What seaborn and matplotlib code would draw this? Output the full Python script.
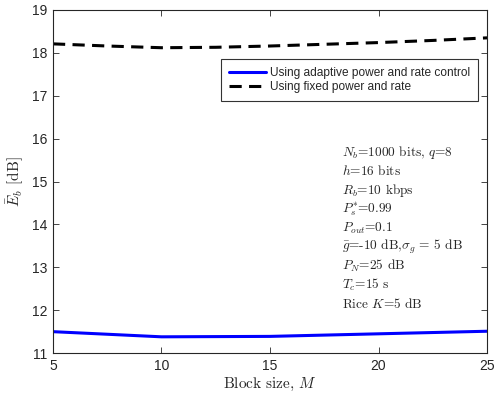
import matplotlib
matplotlib.use("Agg")
import matplotlib.pyplot as plt
import seaborn as sns
import pandas as pd

# Data
m_adaptive = [5, 10, 15, 20, 25]
eb_adaptive = [11.50, 11.38, 11.39, 11.45, 11.51]
m_fixed = [5, 7.5, 10, 12.5, 15, 17.5, 20, 22.5, 25]
eb_fixed = [18.21, 18.16, 18.12, 18.13, 18.16, 18.20, 18.24, 18.29, 18.35]
x_ticks = [5, 10, 15, 20, 25]
y_ticks = [11, 12, 13, 14, 15, 16, 17, 18, 19]
label_adaptive = "Using adaptive power and rate control"
label_fixed = "Using fixed power and rate"
param_lines = [
    r"$N_b$=1000 bits, $q$=8",
    r"$h$=16 bits",
    r"$R_b$=10 kbps",
    r"$P_s^{*}$=0.99",
    r"$P_{out}$=0.1",
    r"$\bar{g}$=-10 dB,$\sigma_g$ = 5 dB",
    r"$P_N$=25 dB",
    r"$T_c$=15 s",
    r"Rice $K$=5 dB",
]

sns.set_theme(style="white")
plt.rcParams["font.family"] = ["Liberation Sans", "DejaVu Sans"]
plt.rcParams["mathtext.fontset"] = "cm"

df_a = pd.DataFrame({"M": m_adaptive, "Eb": eb_adaptive})
df_f = pd.DataFrame({"M": m_fixed, "Eb": eb_fixed})

fig = plt.figure(figsize=(4.95, 3.99), dpi=100)
ax = fig.add_axes([0.107, 0.115, 0.877, 0.86])

sns.lineplot(data=df_a, x="M", y="Eb", ax=ax, color="#0000ff", linewidth=2.2,
             label=label_adaptive)
sns.lineplot(data=df_f, x="M", y="Eb", ax=ax, color="black", linewidth=2.2,
             linestyle=(0, (4.0, 2.4)), label=label_fixed)

ax.set_xlim(5, 25)
ax.set_ylim(11, 19)
ax.set_xticks(x_ticks)
ax.set_yticks(y_ticks)
ax.tick_params(direction="in", length=4, width=0.6, labelsize=10,
               top=True, right=True, bottom=True, left=True, colors="#262626",
               pad=4)
for s in ax.spines.values():
    s.set_color("#262626")
    s.set_linewidth(0.8)

ax.set_xlabel("Block size, $M$", fontsize=11, color="#262626", labelpad=2,
              family=["cmr10", "DejaVu Serif"])
ax.set_ylabel(r"$\bar{E}_b$ [dB]", fontsize=11, color="#262626", labelpad=4,
              family=["cmr10", "DejaVu Serif"])

leg = ax.legend(loc="upper right", bbox_to_anchor=(0.979, 0.857), fontsize=8.6,
                frameon=True, fancybox=False, edgecolor="black",
                handlelength=3.1, borderpad=0.65, labelspacing=0.22,
                handletextpad=0.35, borderaxespad=0.0)
leg.get_frame().set_linewidth(0.8)

y0 = 0.586
for i, line in enumerate(param_lines):
    ax.text(0.666, y0 - i * 0.0554, line, transform=ax.transAxes,
            fontsize=9.6, va="center", ha="left", color="#262626",
            family=["cmr10", "DejaVu Serif"])

fig.savefig("out.png", dpi=100)
